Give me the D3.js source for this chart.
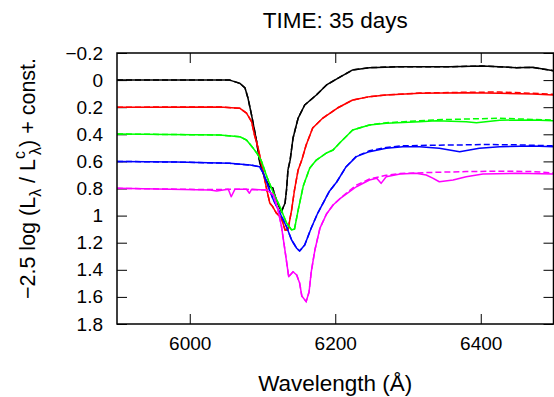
<!DOCTYPE html>
<html>
<head>
<meta charset="utf-8">
<script src="https://cdn.jsdelivr.net/npm/d3@7"></script>
<style>
  html, body { margin: 0; padding: 0; background: #fff; }
  svg { display: block; font-family: "Liberation Sans", Arial, sans-serif; }
</style>
</head>
<body>
<div id="chart"></div>
<script>
// spectra: [wavelength (Å), -2.5 log(L/Lc) + const]
const blackSolid = [
  [5900, 0], [6055, 0], [6069, 0.024], [6076, 0.058], [6080, 0.132], [6085, 0.258],
  [6092, 0.455], [6096, 0.605], [6103, 0.72], [6110, 0.789], [6114, 0.796], [6119, 0.885],
  [6126, 0.971], [6131, 0.907], [6133, 0.811], [6135, 0.663], [6138, 0.59], [6142, 0.427],
  [6149, 0.28], [6158, 0.184], [6174, 0.11], [6188, 0.036], [6204, -0.015], [6224, -0.075],
  [6247, -0.092], [6289, -0.099], [6357, -0.099], [6402, -0.104], [6449, -0.092],
  [6471, -0.094], [6500, -0.069]
];
const blackDashed = blackSolid;

const redSolid = [
  [5900, 0.2], [6041, 0.198], [6069, 0.208], [6078, 0.243], [6085, 0.307], [6089, 0.405],
  [6094, 0.501], [6099, 0.627], [6106, 0.811], [6110, 0.907], [6114, 0.934], [6119, 0.981],
  [6126, 1.018], [6131, 1.106], [6135, 1.106], [6140, 0.959], [6144, 0.811], [6149, 0.663],
  [6154, 0.59], [6160, 0.479], [6169, 0.353], [6183, 0.28], [6203, 0.206], [6224, 0.147],
  [6247, 0.122], [6270, 0.11], [6316, 0.097], [6380, 0.093], [6426, 0.097], [6471, 0.103],
  [6500, 0.11]
];
const redDashed = [
  [5900, 0.2], [6041, 0.198], [6069, 0.208], [6078, 0.243], [6085, 0.307], [6089, 0.405],
  [6094, 0.501], [6099, 0.627], [6106, 0.811], [6110, 0.907], [6114, 0.934], [6119, 0.981],
  [6126, 1.018], [6131, 1.106], [6135, 1.106], [6140, 0.959], [6144, 0.811], [6149, 0.663],
  [6154, 0.59], [6160, 0.479], [6169, 0.353], [6183, 0.28], [6203, 0.206], [6224, 0.147],
  [6247, 0.122], [6270, 0.11], [6316, 0.095], [6380, 0.09], [6426, 0.088], [6471, 0.097],
  [6500, 0.105]
];

const greenSolid = [
  [5900, 0.398], [6041, 0.405], [6069, 0.418], [6078, 0.442], [6087, 0.501], [6094, 0.553],
  [6099, 0.604], [6106, 0.713], [6115, 0.833], [6124, 0.934], [6133, 1.055], [6140, 1.106],
  [6144, 1.099], [6149, 0.959], [6156, 0.782], [6165, 0.649], [6174, 0.59], [6188, 0.538],
  [6197, 0.516], [6206, 0.464], [6224, 0.368], [6247, 0.331], [6270, 0.319], [6316, 0.307],
  [6339, 0.3], [6380, 0.307], [6394, 0.314], [6426, 0.296], [6471, 0.294], [6500, 0.3]
];
const greenDashed = [
  [5900, 0.398], [6041, 0.405], [6069, 0.418], [6078, 0.442], [6087, 0.501], [6094, 0.553],
  [6099, 0.604], [6106, 0.713], [6115, 0.833], [6124, 0.934], [6133, 1.055], [6140, 1.106],
  [6144, 1.099], [6149, 0.959], [6156, 0.782], [6165, 0.649], [6174, 0.59], [6188, 0.538],
  [6197, 0.516], [6206, 0.464], [6224, 0.368], [6247, 0.331], [6270, 0.315], [6316, 0.3],
  [6339, 0.293], [6380, 0.287], [6426, 0.282], [6471, 0.29], [6500, 0.295]
];

const blueSolid = [
  [5900, 0.6], [5982, 0.605], [6055, 0.614], [6083, 0.627], [6096, 0.639], [6101, 0.686],
  [6108, 0.787], [6115, 0.885], [6124, 0.981], [6133, 1.082], [6140, 1.18], [6147, 1.241],
  [6151, 1.261], [6158, 1.217], [6167, 1.092], [6176, 0.981], [6192, 0.82], [6202, 0.752],
  [6215, 0.639], [6229, 0.565], [6247, 0.528], [6270, 0.503], [6293, 0.491], [6316, 0.491],
  [6343, 0.503], [6371, 0.528], [6398, 0.503], [6426, 0.491], [6471, 0.486], [6500, 0.491]
];
const blueDashed = [
  [5900, 0.6], [5982, 0.605], [6055, 0.614], [6083, 0.627], [6096, 0.639], [6101, 0.686],
  [6108, 0.787], [6115, 0.885], [6124, 0.981], [6133, 1.082], [6140, 1.18], [6147, 1.241],
  [6151, 1.261], [6158, 1.217], [6167, 1.092], [6176, 0.981], [6192, 0.82], [6202, 0.752],
  [6215, 0.639], [6229, 0.562], [6247, 0.522], [6270, 0.497], [6293, 0.485], [6343, 0.48],
  [6371, 0.479], [6402, 0.475], [6449, 0.478], [6500, 0.485]
];

const magentaSolid = [
  [5900, 0.799], [6028, 0.811], [6037, 0.818], [6046, 0.811], [6053, 0.806], [6057, 0.861],
  [6062, 0.806], [6078, 0.806], [6082, 0.835], [6085, 0.806], [6106, 0.811], [6115, 0.848],
  [6121, 0.951], [6126, 1.077], [6131, 1.261], [6136, 1.451], [6142, 1.414], [6147, 1.438],
  [6151, 1.497], [6154, 1.593], [6160, 1.635], [6164, 1.564], [6167, 1.416], [6172, 1.254],
  [6179, 1.092], [6188, 0.988], [6197, 0.922], [6206, 0.877], [6215, 0.841], [6229, 0.787],
  [6247, 0.737], [6257, 0.725], [6263, 0.762], [6270, 0.713], [6289, 0.693], [6311, 0.688],
  [6325, 0.7], [6334, 0.723], [6343, 0.75], [6362, 0.737], [6380, 0.713], [6403, 0.693],
  [6449, 0.688], [6500, 0.693]
];
const magentaDashed = [
  [5900, 0.799], [6028, 0.808], [6053, 0.806], [6078, 0.806], [6106, 0.811], [6115, 0.848],
  [6121, 0.951], [6126, 1.077], [6131, 1.261], [6136, 1.451], [6142, 1.414], [6147, 1.438],
  [6151, 1.497], [6154, 1.593], [6160, 1.635], [6164, 1.564], [6167, 1.416], [6172, 1.254],
  [6179, 1.092], [6188, 0.988], [6197, 0.922], [6206, 0.877], [6215, 0.835], [6229, 0.775],
  [6247, 0.73], [6270, 0.703], [6289, 0.69], [6311, 0.685], [6343, 0.68], [6380, 0.675],
  [6426, 0.672], [6471, 0.675], [6500, 0.685]
];

const series = [
  { color: '#000000', solid: blackSolid, dashed: blackDashed },
  { color: '#ff0000', solid: redSolid, dashed: redDashed },
  { color: '#00ff00', solid: greenSolid, dashed: greenDashed },
  { color: '#0000ff', solid: blueSolid, dashed: blueDashed },
  { color: '#ff00ff', solid: magentaSolid, dashed: magentaDashed }
];

const xTicks = [6000, 6200, 6400];
const yTicks = [-0.2, 0, 0.2, 0.4, 0.6, 0.8, 1, 1.2, 1.4, 1.6, 1.8];

const W = 554, H = 397;
const margin = { top: 53, right: 0.5, bottom: 73, left: 117 };
const pw = W - margin.left - margin.right;
const ph = H - margin.top - margin.bottom;

const svg = d3.select('#chart').append('svg')
  .attr('width', W).attr('height', H);

const x = d3.scaleLinear().domain([5900, 6500]).range([0, pw]);
const y = d3.scaleLinear().domain([-0.2, 1.8]).range([0, ph]);

const g = svg.append('g').attr('transform', `translate(${margin.left},${margin.top})`);

svg.append('defs').append('clipPath').attr('id', 'clip')
  .append('rect').attr('width', pw).attr('height', ph);

const fmt = v => {
  const r = Math.round(v * 10) / 10;
  return (r < 0 ? '\u2212' : '') + String(Math.abs(r));
};

// inward ticks on all four sides, like gnuplot
const styleAxis = sel => {
  sel.select('.domain').remove();
  sel.selectAll('line').attr('stroke', '#000').attr('stroke-width', 1);
  sel.selectAll('text').attr('fill', '#000').style('font-size', '19px')
    .style('font-family', '"Liberation Sans", Arial, sans-serif');
};

g.append('g').attr('transform', `translate(0,${ph})`)
  .call(d3.axisBottom(x).tickValues(xTicks).tickSize(-10).tickPadding(13).tickFormat(d3.format('d')))
  .call(styleAxis);
g.append('g')
  .call(d3.axisTop(x).tickValues(xTicks).tickSize(-10).tickFormat(''))
  .call(styleAxis);
g.append('g')
  .call(d3.axisLeft(y).tickValues(yTicks).tickSize(-10).tickPadding(14).tickFormat(fmt))
  .call(styleAxis);
g.append('g').attr('transform', `translate(${pw},0)`)
  .call(d3.axisRight(y).tickValues(yTicks).tickSize(-10).tickFormat(''))
  .call(styleAxis);

const line = d3.line().x(d => x(d[0])).y(d => y(d[1]));

const curves = g.append('g').attr('clip-path', 'url(#clip)');
series.forEach(s => {
  curves.append('path').datum(s.solid)
    .attr('d', line).attr('fill', 'none')
    .attr('stroke', s.color).attr('stroke-width', 1.5)
    .attr('stroke-linejoin', 'round');
  curves.append('path').datum(s.dashed)
    .attr('d', line).attr('fill', 'none')
    .attr('stroke', s.color).attr('stroke-width', 1.5)
    .attr('stroke-dasharray', '6,3');
});

g.append('rect')
  .attr('width', pw).attr('height', ph)
  .attr('fill', 'none').attr('stroke', '#000').attr('stroke-width', 1.5);

svg.append('text')
  .attr('x', margin.left + pw / 2).attr('y', 28)
  .attr('text-anchor', 'middle').style('font-size', '22.5px')
  .text('TIME: 35 days');

svg.append('text')
  .attr('x', margin.left + pw / 2).attr('y', 391)
  .attr('text-anchor', 'middle').style('font-size', '22.5px')
  .text('Wavelength (\u00c5)');

const yl = svg.append('text')
  .attr('transform', `translate(35,${margin.top + ph / 2 - 10}) rotate(-90)`)
  .attr('text-anchor', 'middle').style('font-size', '21.5px');
yl.append('tspan').text('\u22122.5 log (L');
yl.append('tspan').attr('dy', 6).style('font-size', '16px').text('\u03bb');
yl.append('tspan').attr('dy', -6).text(' / L');
yl.append('tspan').attr('dy', -10).style('font-size', '16px').text('c');
yl.append('tspan').attr('dy', 16).attr('dx', -4).style('font-size', '16px').text('\u03bb');
yl.append('tspan').attr('dy', -6).text(') + const.');
</script>
</body>
</html>
